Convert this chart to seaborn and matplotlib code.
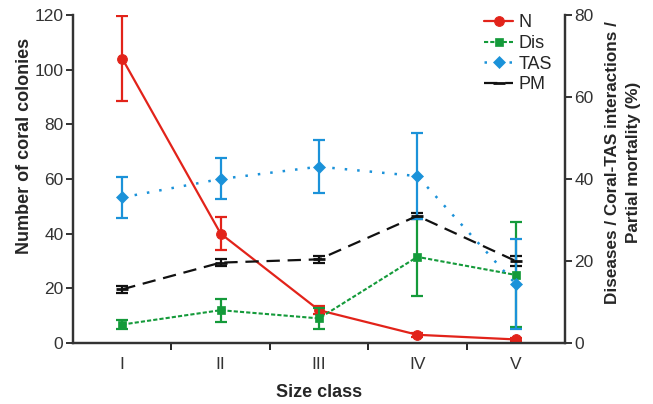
import pandas as pd
import matplotlib.pyplot as plt
import seaborn as sns

# Values
size_class = ['I', 'II', 'III', 'IV', 'V']
n_mean = [104, 40, 12, 3, 1.3]
n_err = [15.5, 6, 1.5, 0.8, 0.6]
dis_mean = [4.5, 8, 6, 21, 16.6]
dis_err = [1, 2.8, 2.5, 9.5, 12.8]
tas_mean = [35.5, 40, 43, 40.7, 14.4]
tas_err = [5, 5, 6.5, 10.5, 11]
pm_mean = [13.1, 19.6, 20.4, 31, 20]
pm_err = [0.8, 0.8, 0.9, 0.8, 1.2]

RED = '#e2231a'
GREEN = '#149a3a'
BLUE = '#1b92d9'
BLACK = '#111111'

sns.set_style('ticks')
plt.rcParams['font.family'] = ['Liberation Sans', 'DejaVu Sans']

x = list(range(1, len(size_class) + 1))
df = pd.DataFrame({'x': x, 'N': n_mean, 'Dis': dis_mean, 'TAS': tas_mean, 'PM': pm_mean})

fig = plt.figure(figsize=(6.53, 4.04), dpi=100)
ax = fig.add_axes([0.112, 0.151, 0.753, 0.812])
ax2 = ax.twinx()

# right-axis series: dis, tas, pm
series = [
    ('PM', pm_mean, pm_err, BLACK, '_', (0, (6, 3.5)), 1.6, 9),
    ('Dis', dis_mean, dis_err, GREEN, 's', (0, (2, 1)), 1.5, 6),
    ('TAS', tas_mean, tas_err, BLUE, 'D', (0, (1, 4)), 1.8, 6),
]
for name, mean, err, col, mk, ls, lw, ms in series:
    ax2.errorbar(x, mean, yerr=err, fmt='none', ecolor=col, elinewidth=1.6,
                 capsize=4, capthick=1.6, zorder=2)
    sns.lineplot(data=df, x='x', y=name, ax=ax2, color=col, marker=mk, markersize=ms,
                 markeredgecolor=col, markeredgewidth=2 if mk == '_' else 0.5,
                 linestyle=ls, linewidth=lw, label=name, legend=False, zorder=3)

# left-axis series: N
ax.errorbar(x, n_mean, yerr=n_err, fmt='none', ecolor=RED, elinewidth=1.6,
            capsize=4, capthick=1.6, zorder=2)
sns.lineplot(data=df, x='x', y='N', ax=ax, color=RED, marker='o', markersize=7,
             markeredgecolor=RED, linewidth=1.6, label='N', legend=False, zorder=3)

ax.set_xlim(0.5, 5.5)
ax.set_ylim(0, 120)
ax2.set_ylim(0, 80)
ax.set_yticks(range(0, 121, 20))
ax2.set_yticks(range(0, 81, 20))
ax.set_xticks(x)
ax.set_xticklabels(size_class)
ax.set_xticks([1.5, 2.5, 3.5, 4.5], minor=True)
ax.tick_params(axis='x', which='major', length=0, pad=10, labelsize=12.5)
ax.tick_params(axis='x', which='minor', length=5, width=1.4, direction='out')
ax.tick_params(axis='y', length=5, width=1.4, labelsize=12.5, pad=2)
ax2.tick_params(axis='y', length=5, width=1.4, labelsize=12.5, pad=2)

for a in (ax, ax2):
    a.spines['top'].set_visible(False)
    for s in ('left', 'right', 'bottom'):
        a.spines[s].set_linewidth(1.6)
        a.spines[s].set_color('#333333')
    a.tick_params(colors='#333333')

ax.set_xlabel('Size class', fontsize=13, fontweight='bold')
ax.xaxis.set_label_coords(0.5, -0.125)
ax.set_ylabel('Number of coral colonies', fontsize=13, fontweight='bold')
ax.yaxis.set_label_coords(-0.082, 0.6)
ax2.set_ylabel('Diseases / Coral-TAS interactions /\nPartial mortality (%)',
               fontsize=12.3, fontweight='bold', linespacing=1.45)
ax2.yaxis.set_label_coords(1.082, 0.55)

h1, l1 = ax.get_legend_handles_labels()
h2, l2 = ax2.get_legend_handles_labels()
hmap = dict(zip(l1 + l2, h1 + h2))
order = ['N', 'Dis', 'TAS', 'PM']
ax2.legend([hmap[k] for k in order], order, loc='upper right',
           bbox_to_anchor=(1.0, 1.04), frameon=False, fontsize=13,
           handlelength=1.6, handletextpad=0.3, labelspacing=0.2, borderpad=0.2)

fig.savefig('out.png', dpi=100)
